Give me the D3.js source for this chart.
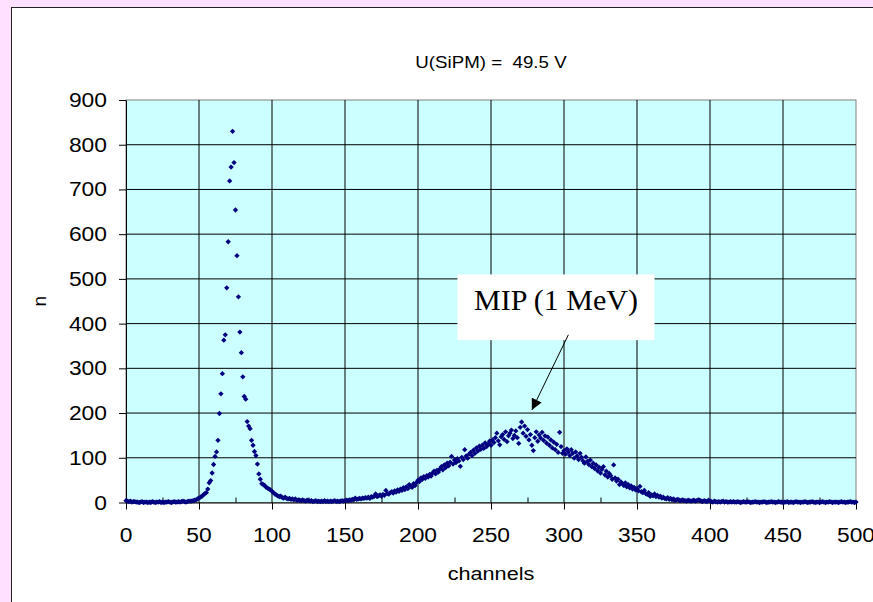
<!DOCTYPE html>
<html>
<head>
<meta charset="utf-8">
<script src="https://cdn.jsdelivr.net/npm/d3@7"></script>
<style>
body { margin: 0; background: #ffe0ff; }
svg { display: block; }
</style>
</head>
<body>
<svg id="chart" width="873" height="602"></svg>
<script>
var title = "U(SiPM) =  49.5 V",
    xTitle = "channels",
    yTitle = "n",
    noteText = "MIP (1 MeV)";

var xTicks = [0, 50, 100, 150, 200, 250, 300, 350, 400, 450, 500],
    xMinor = [25, 75, 125, 175, 225, 275, 325, 375, 425, 475],
    yTicks = [0, 100, 200, 300, 400, 500, 600, 700, 800, 900];

// counts per channel, channel = index (0..500)
var counts = [
    4,3,2,3,1,2,2,1,1,0, 1,2,0,1,1,0,1,0,2,1, 0,1,1,2,0,1,0,1,1,2, 1,0,1,2,1,1,2,1,2,3, 2,1,2,3,3,3,
    4,5,6,8,10,12,14,17,20,22,
    30,44,49,66,85,103,113,139,199,243,
    288,363,375,480,583,719,750,830,760,654,
    552,460,381,335,281,237,231,181,171,165,
    139,128,114,105,86,64,52,42,40,38,
    34,32,30,28,25,22,19,17,15,13,
    14,11,10,12,9,8,9,7,8,6,
    8,5,6,5,4,6,4,3,5,4,
    3,4,2,3,4,2,3,2,3,2,
    4,2,3,2,3,2,3,4,2,3,
    2,3,4,3,4,5,4,6,5,7,
    6,10,7,8,9,8,10,9,11,10,
    12,9,13,12,14,19,13,15,17,14,
    18,16,27,20,19,22,24,21,26,23,
    28,25,30,27,33,29,35,31,40,36,
    34,42,38,45,50,47,55,52,58,54,
    60,57,63,59,66,70,64,72,68,75,
    80,73,84,78,88,82,90,103,86,95,
    89,98,93,81,101,96,118,104,99,108,
    112,105,117,110,122,115,126,119,128,121,
    133,125,130,137,128,140,134,145,155,138,
    129,147,152,141,158,136,149,155,162,143,
    150,160,145,132,168,180,155,171,148,163,
    140,152,128,116,145,158,137,151,144,157,
    139,149,133,146,128,140,122,135,118,130,
    112,157,125,110,116,108,120,113,105,118,
    110,99,113,104,96,110,101,93,88,102,
    92,85,95,80,88,76,84,71,79,66,
    74,80,62,70,57,65,60,52,84,55,
    48,52,40,46,42,38,44,35,40,33,
    37,30,34,28,31,26,36,24,22,27,
    20,18,22,14,17,15,19,13,16,12,
    14,10,12,9,8,11,7,9,6,8,
    5,6,7,5,4,6,5,4,3,5,
    4,3,4,5,3,4,6,5,3,2,
    4,3,2,5,3,2,1,3,2,1,
    2,1,2,3,1,2,1,1,2,1,
    2,1,1,2,1,0,1,2,1,1,
    2,1,0,1,1,2,1,1,0,1,
    1,2,1,0,1,1,2,1,1,0,
    1,2,1,1,0,1,1,2,0,1,
    1,0,1,2,1,1,0,1,1,2,
    1,0,1,1,2,1,0,1,1,0,
    1,2,1,0,1,1,2,1,0,1,
    1,1,0,1,2,1,1,0,1,1,
    2,1,1,0,1
];

// annotation box and arrow, in data units
var noteBox = [227, 510, 362, 363],   // x0, y0, x1, y1
    arrowFrom = [303, 375],
    arrowTo = [278, 207];

var svg = d3.select("#chart"),
    margin = { top: 100, right: 17, bottom: 99.5, left: 126 },
    width = +svg.attr("width") - margin.left - margin.right,
    height = +svg.attr("height") - margin.top - margin.bottom;

var x = d3.scaleLinear().domain([0, 500]).range([0, width]),
    y = d3.scaleLinear().domain([0, 900]).range([height, 0]);

var stretch = 1.17;

// white chart frame
svg.append("rect")
    .attr("x", 11.5).attr("y", 7.5)
    .attr("width", 900).attr("height", 700)
    .attr("fill", "#fff")
    .attr("stroke", "#222");

svg.append("text")
    .attr("transform", "translate(" + (margin.left + width / 2) + ",68) scale(" + stretch + ",1)")
    .attr("text-anchor", "middle")
    .style("white-space", "pre")
    .style("font-family", "Liberation Sans, Arial, sans-serif")
    .style("font-size", "16px")
    .text(title);

var g = svg.append("g")
    .attr("transform", "translate(" + margin.left + "," + margin.top + ")");

g.append("rect")
    .attr("width", width).attr("height", height)
    .attr("fill", "#ccffff")
    .attr("stroke", "#808080");

g.append("g")
    .selectAll("line")
    .data(xTicks.slice(1, -1))
    .enter().append("line")
    .attr("x1", function (d) { return x(d); })
    .attr("x2", function (d) { return x(d); })
    .attr("y1", 0).attr("y2", height)
    .attr("stroke", "#000");

g.append("g")
    .selectAll("line")
    .data(yTicks.slice(1, -1))
    .enter().append("line")
    .attr("y1", function (d) { return y(d); })
    .attr("y2", function (d) { return y(d); })
    .attr("x1", 0).attr("x2", width)
    .attr("stroke", "#000");

// axes
g.append("g")
    .attr("transform", "translate(0," + height + ")")
    .call(d3.axisBottom(x).tickValues(xTicks).tickSize(7).tickSizeOuter(0).tickFormat(""))
    .call(function (a) { a.selectAll("path, line").attr("stroke", "#000"); });

g.append("g")
    .attr("transform", "translate(0," + height + ")")
    .call(d3.axisTop(x).tickValues(xMinor).tickSize(5).tickSizeOuter(0).tickFormat(""))
    .call(function (a) { a.select("path").remove(); a.selectAll("line").attr("stroke", "#000"); });

g.append("g")
    .call(d3.axisLeft(y).tickValues(yTicks).tickSize(7).tickSizeOuter(0).tickFormat(""))
    .call(function (a) { a.selectAll("path, line").attr("stroke", "#000"); });

// tick labels, slightly stretched like the original
g.selectAll(".xlab")
    .data(xTicks)
    .enter().append("text")
    .attr("class", "xlab")
    .attr("transform", function (d) { return "translate(" + x(d) + "," + (height + 39.5) + ") scale(" + stretch + ",1)"; })
    .attr("text-anchor", "middle")
    .style("font-family", "Liberation Sans, Arial, sans-serif")
    .style("font-size", "19.5px")
    .text(function (d) { return d; });

g.selectAll(".ylab")
    .data(yTicks)
    .enter().append("text")
    .attr("class", "ylab")
    .attr("transform", function (d) { return "translate(-19," + (y(d) + 7) + ") scale(" + stretch + ",1)"; })
    .attr("text-anchor", "end")
    .style("font-family", "Liberation Sans, Arial, sans-serif")
    .style("font-size", "19.5px")
    .text(function (d) { return d; });

g.append("text")
    .attr("transform", "translate(" + (width / 2) + "," + (height + 77) + ") scale(" + stretch + ",1)")
    .attr("text-anchor", "middle")
    .style("font-family", "Liberation Sans, Arial, sans-serif")
    .style("font-size", "18.5px")
    .text(xTitle);

g.append("text")
    .attr("transform", "translate(-80," + (height / 2) + ") rotate(-90)")
    .attr("text-anchor", "middle")
    .style("font-family", "Liberation Sans, Arial, sans-serif")
    .style("font-size", "19px")
    .text(yTitle);

// data points
var diamond = d3.symbol().type(d3.symbolSquare).size(14);

g.append("g")
    .selectAll("path")
    .data(counts)
    .enter().append("path")
    .attr("d", diamond)
    .attr("transform", function (d, i) { return "translate(" + x(i) + "," + y(d) + ") rotate(45)"; })
    .attr("fill", "#000080");

// annotation
g.append("rect")
    .attr("x", x(noteBox[0])).attr("y", y(noteBox[1]))
    .attr("width", x(noteBox[2]) - x(noteBox[0]))
    .attr("height", y(noteBox[3]) - y(noteBox[1]))
    .attr("fill", "#fff");

g.append("text")
    .attr("x", (x(noteBox[0]) + x(noteBox[2])) / 2)
    .attr("y", y(noteBox[1]) + 36)
    .attr("text-anchor", "middle")
    .style("font-family", "Liberation Serif, Times New Roman, serif")
    .style("font-size", "30px")
    .text(noteText);

svg.append("defs").append("marker")
    .attr("id", "arrow")
    .attr("viewBox", "0 0 10 10")
    .attr("refX", 10).attr("refY", 5)
    .attr("markerWidth", 11).attr("markerHeight", 11)
    .attr("markerUnits", "userSpaceOnUse")
    .attr("orient", "auto")
    .append("path")
    .attr("d", "M0,0L10,5L0,10Z")
    .attr("fill", "#000");

g.append("line")
    .attr("x1", x(arrowFrom[0])).attr("y1", y(arrowFrom[1]))
    .attr("x2", x(arrowTo[0])).attr("y2", y(arrowTo[1]))
    .attr("stroke", "#000")
    .attr("stroke-width", 1)
    .attr("marker-end", "url(#arrow)");
</script>
</body>
</html>
